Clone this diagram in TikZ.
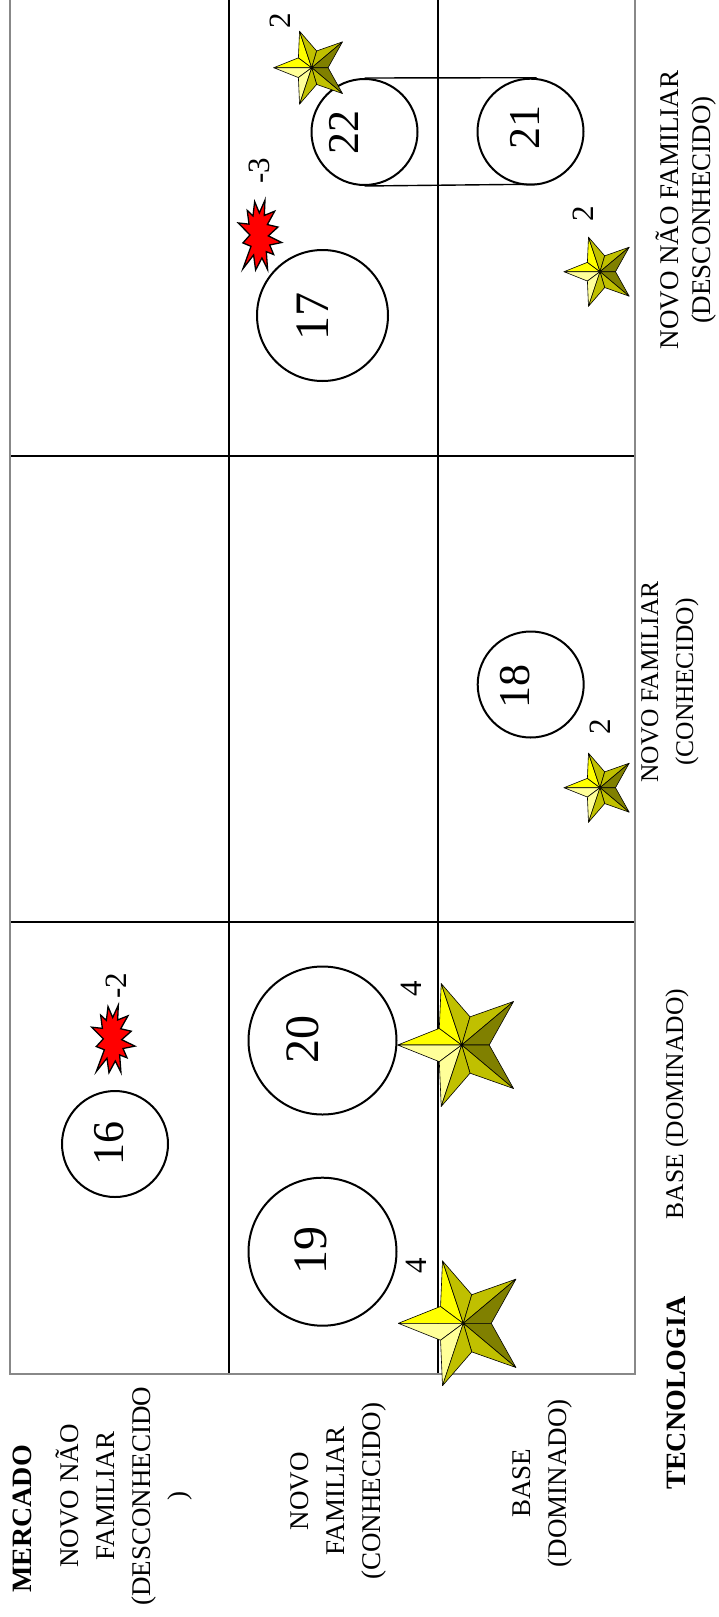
\documentclass[tikz,border=0pt]{standalone}
\usepackage{fontspec}
\setmainfont{Liberation Serif}
\definecolor{ybright}{RGB}{255,255,0}
\definecolor{ypale}{RGB}{255,255,153}
\definecolor{yolive}{RGB}{192,192,0}
\definecolor{ydark}{RGB}{128,128,0}
\definecolor{bordergray}{RGB}{136,136,136}
\tikzset{
  facet/.style={draw=black,line width=0.6pt,line join=round},
  mystar/.pic={
    \path[facet,fill=ybright] (0,0)--(-1,0)--(-0.35,-0.26)--cycle;
    \path[facet,fill=ypale] (0,0)--(-1,0)--(-0.35,0.26)--cycle;
    \path[facet,fill=ybright] (0,0)--(-0.32,-0.96)--(-0.35,-0.26)--cycle;
    \path[facet,fill=yolive] (0,0)--(-0.32,-0.96)--(0.13,-0.44)--cycle;
    \path[facet,fill=yolive] (0,0)--(0.81,-0.68)--(0.13,-0.44)--cycle;
    \path[facet,fill=ydark] (0,0)--(0.81,-0.68)--(0.43,0)--cycle;
    \path[facet,fill=ydark] (0,0)--(0.81,0.68)--(0.43,0)--cycle;
    \path[facet,fill=yolive] (0,0)--(0.81,0.68)--(0.13,0.44)--cycle;
    \path[facet,fill=ypale] (0,0)--(-0.32,0.96)--(-0.35,0.26)--cycle;
    \path[facet,fill=yolive] (0,0)--(-0.32,0.96)--(0.13,0.44)--cycle;
  },
  boom/.pic={
    \path[fill=red,draw=black,line width=1.3pt,line join=miter]
      (0.2685,0.5)--(0,0.3277)--(0.2465,0.3447)--(0.2063,0.1491)--(0.3387,0.2268)
      --(0.3767,0.0233)--(0.4850,0.1849)--(0.6153,0)--(0.5992,0.2205)--(0.8377,0.1600)
      --(0.6693,0.3509)--(0.9138,0.3867)--(0.6914,0.5124)--(1,0.6072)--(0.7235,0.6428)
      --(0.8156,0.7795)--(0.6452,0.7376)--(0.6753,0.9938)--(0.5451,0.8277)--(0.3988,1)
      --(0.3526,0.7858)--(0.1063,0.9829)--(0.2926,0.6615)--(0.1063,0.6133)--cycle;
  }
}
\begin{document}
\begin{tikzpicture}[x=1pt,y=-1pt,
  gridline/.style={line width=1.6pt,black},
  border/.style={line width=2.6pt,bordergray},
  circ/.style={circle,draw,line width=2pt,fill=white,inner sep=0pt},
  numL/.style={font=\fontsize{48}{50}\selectfont,rotate=90,inner sep=0pt},
  numS/.style={font=\fontsize{44}{48}\selectfont,rotate=90,inner sep=0pt},
  small/.style={font=\fontsize{31}{34}\selectfont,rotate=90,inner sep=0pt},
  lbl/.style={font=\fontsize{27}{36}\selectfont,rotate=90,align=center,inner sep=0pt},
  boldlbl/.style={font=\fontsize{28}{34}\selectfont\bfseries,rotate=90,inner sep=0pt}]
\useasboundingbox[fill=white] (0,0) rectangle (718,1617);

% grid
\coordinate (gTL) at (10,0);
\coordinate (gTR) at (635,0);
\coordinate (gBL) at (10,1374);
\coordinate (gBR) at (635,1374);
\coordinate (v1t) at (229,0);
\coordinate (v1b) at (229,1374);
\coordinate (v2t) at (438,0);
\coordinate (v2b) at (438,1374);
\coordinate (h1l) at (10,456);
\coordinate (h1r) at (635,456);
\coordinate (h2l) at (10,922);
\coordinate (h2r) at (635,922);
\draw[gridline] (v1t) -- (v1b);
\draw[gridline] (v2t) -- (v2b);
\draw[gridline] (h1l) -- (h1r);
\draw[gridline] (h2l) -- (h2r);
\draw[border] (gTL) -- (gBL) -- (gBR) -- (gTR);

% circles
\node[circ,minimum size=106pt] (c16) at (115,1144) {};
\node[circ,minimum size=148pt] (c19) at (322.5,1251.7) {};
\node[circ,minimum size=148pt] (c20) at (322.5,1040.5) {};
\node[circ,minimum size=131pt] (c17) at (322.5,315.5) {};
\node[circ,minimum size=106pt] (c22) at (364.5,132) {};
\node[circ,minimum size=106pt] (c21) at (530.5,131.7) {};
\node[circ,minimum size=106pt] (c18) at (530.7,684.5) {};
\draw[line width=1.4pt] (c22.north) -- ([xshift=6pt]c21.north);
\draw[line width=1.4pt] (c22.south) -- ([xshift=6pt,yshift=1.5pt]c21.south);

% numbers
\node[numS] (t16) at (109,1143) {16};
\node[numL] (t19) at (311,1250) {19};
\node[numL] (t20) at (303,1039) {20};
\node[numL] (t17) at (312.5,316) {17};
\node[numS] (t22) at (344,132.5) {22};
\node[numS] (t21) at (525,127) {21};
\node[numS] (t18) at (515,686) {18};

% stars
\pic[scale=64] at (461.7,1045) {mystar};
\pic[scale=65] at (463.3,1323.3) {mystar};
\pic[scale=38] at (311.7,67.7) {mystar};
\pic[scale=36] at (600,271.7) {mystar};
\pic[scale=36] at (600,787.7) {mystar};

% explosions
\pic[xscale=43.3,yscale=67.7] at (91.7,1005) {boom};
\pic[xscale=43.4,yscale=70] at (238.3,200) {boom};

% small labels
\node[small] (l4a) at (411.7,988.3) {4};
\node[small] (l4b) at (416,1266) {4};
\node[small] (l2a) at (280,21) {2};
\node[small] (l2b) at (583,214) {2};
\node[small] (l2c) at (600,727) {2};
\node[small] (lm2) at (116,986) {-2};
\node[small] (lm3) at (259,171) {-3};

% axis labels
\node[boldlbl] (mercado) at (22,1519) {MERCADO};
\node[boldlbl] (tecno) at (676,1393) {TECNOLOGIA};
\node[lbl] (r1) at (124,1496) {NOVO NÃO\\FAMILIAR\\(DESCONHECIDO\\)};
\node[lbl] (r2) at (338,1491) {NOVO\\FAMILIAR\\(CONHECIDO)};
\node[lbl] (r3) at (542,1483) {BASE\\(DOMINADO)};
\node[lbl,font=\fontsize{25.5}{36}\selectfont] (k1) at (677,1104) {BASE (DOMINADO)};
\node[lbl,font=\fontsize{25.5}{35}\selectfont] (k2) at (670,682) {NOVO FAMILIAR\\(CONHECIDO)};
\node[lbl,font=\fontsize{27}{32}\selectfont] (k3) at (686,210) {NOVO NÃO FAMILIAR\\(DESCONHECIDO)};
\end{tikzpicture}
\end{document}
